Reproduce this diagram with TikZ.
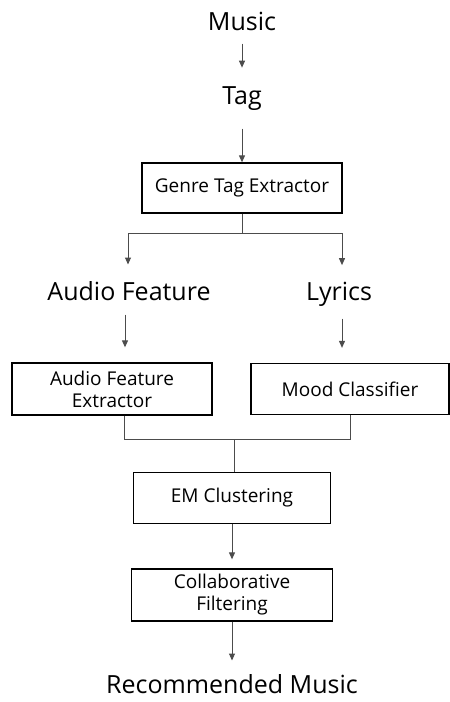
\documentclass[tikz,border=0pt]{standalone}
\usepackage{fontspec}
\setmainfont{Open Sans}
\usetikzlibrary{arrows.meta}

\begin{document}
\begin{tikzpicture}[x = 1pt, y = -1pt, line width = 1pt,
    box/.style = {draw, line width = 1.3pt, inner sep = 0pt, align = center, font = \fontsize{19}{22}\selectfont},
    big/.style = {inner sep = 0pt, anchor = base, font = \fontsize{25}{28}\selectfont},
    link/.style = {draw = black!70},
    arr/.style = {link, -{Triangle[length = 7pt, width = 6pt]}}]
\useasboundingbox (0,0) rectangle (450,702);
\draw (242,30) node[big](m){Music}
    (242,104) node[big](t){Tag}
    (242,188) node[box, minimum width = 200pt, minimum height = 50pt](g){Genre Tag Extractor}
    (129,300) node[big](af){Audio Feature}
    (339,300) node[big](ly){Lyrics}
    (112,389) node[box, minimum width = 200pt, minimum height = 52pt](ae){Audio Feature\\Extractor}
    (350,389) node[box, minimum width = 198pt, minimum height = 51pt](mc){Mood Classifier}
    (232,498) node[box, minimum width = 197pt, minimum height = 51pt](em){EM Clustering}
    (232,595) node[box, minimum width = 201pt, minimum height = 52pt](cf){Collaborative\\Filtering}
    (232,693) node[big](rm){Recommended Music};
\coordinate (j1) at (242,233);
\coordinate (j1l) at (128,233);
\coordinate (j1r) at (342,233);
\coordinate (j2) at (234,439);
\coordinate (j2l) at (124,439);
\coordinate (j2r) at (350,439);
    \draw [arr, shorten < = 13pt, shorten > = 18pt] (m) -- (t);
    \draw [arr, shorten < = 18pt] (t) -- (g);
    \draw [link] (g) -- (j1);
    \draw [link] (j1l) -- (j1r);
    \draw [arr, shorten > = 16pt] (j1l) -- (j1l |- af.north);
    \draw [arr, shorten > = 16pt] (j1r) -- (j1r |- ly.north);
    \draw [arr, shorten < = 14pt, shorten > = 15pt] (af.south -| 125,0) -- (ae.north -| 125,0);
    \draw [arr, shorten < = 12pt, shorten > = 15pt] (ly.south -| 342,0) -- (mc.north -| 342,0);
    \draw [link] (ae.south -| j2l) -- (j2l) -- (j2r) -- (mc.south -| j2r);
    \draw [link] (j2) -- (em.north -| j2);
    \draw [arr, shorten > = 9pt] (em) -- (cf);
    \draw [arr, shorten > = 13pt] (cf) -- (cf.south |- rm.north);
\end{tikzpicture}
\end{document}
